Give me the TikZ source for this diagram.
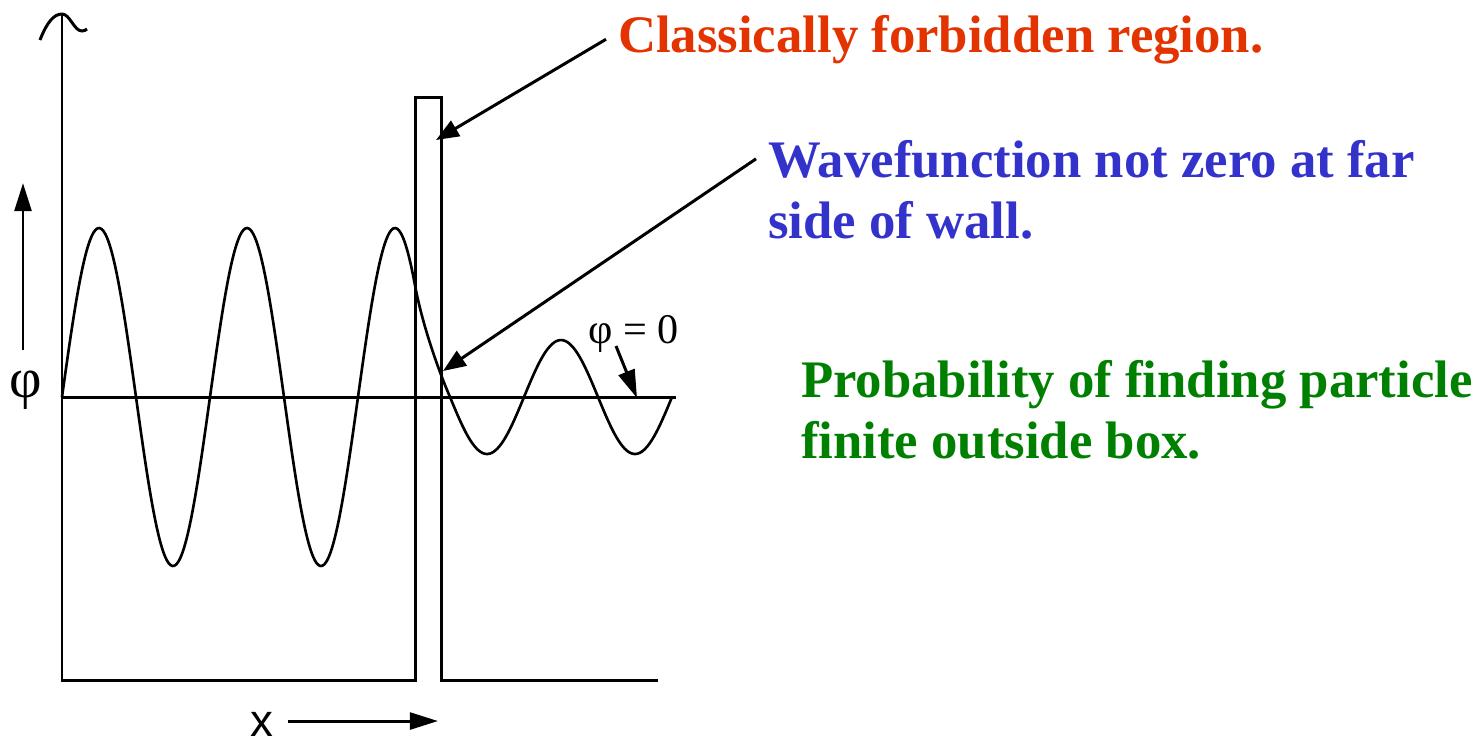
\documentclass[tikz,border=0pt]{standalone}
\usepackage{xcolor}
\usepackage{fontspec}
\setmainfont{Liberation Serif}
\newfontfamily\labelsans{Liberation Sans}
\usepackage{tikz}
\usetikzlibrary{arrows.meta}

\definecolor{forbidred}{RGB}{227,51,0}
\definecolor{wallblue}{RGB}{51,51,204}
\definecolor{probgreen}{RGB}{0,128,0}

\begin{document}
\begin{tikzpicture}[x=0.01cm, y=-0.01cm, line width=0.85pt,
    axarrow/.style={-{Triangle[length=8pt,width=4.8pt]}},
    labarrow/.style={-{Triangle[length=6.5pt,width=5pt]}},
    note/.style={font=\fontsize{15}{17.4}\selectfont\bfseries, anchor=base west, inner sep=3pt}]
    \useasboundingbox (0,0) rectangle (1483,741);

    % box with the thin wall
    \draw (40,40) .. controls (47,22) and (54,14) .. (62,14)
        .. controls (70,14) and (74,31) .. (82,31)
        .. controls (84,31) and (86,30) .. (87,29);
    \draw (62,14) -- (62,680) -- (415,680) -- (415,97) -- (441,97) -- (441,680) -- (658,680);
    \draw (62,397) -- (676,397);

    % wavefunction (period 148 px -> 2.4324 deg per px)
    \draw[line width=0.75pt] plot[domain=62:415, samples=180, smooth] (\x, {397-169*sin(2.4324*(\x-62))})
        .. controls (423,328) and (440,374) .. (450,397)
        -- plot[domain=450:672, samples=90, smooth] (\x, {397+57*sin(2.4324*(\x-450))});

    % axes labels
    \node[font=\fontsize{16}{18}\selectfont, inner sep=0pt] (philab) at (26,390) {φ};
    \coordinate (phibot) at (23,350);
    \coordinate (phitop) at (23,183);
    \draw[axarrow] (phibot) -- (phitop);
    \node[font=\labelsans\fontsize{13}{15}\selectfont, inner sep=3.8pt] (xlab) at (262,724) {x};
    \coordinate (xend) at (438,721);
    \draw[axarrow] (xlab.east |- xend) -- (xend);

    % notes
    \node[note, text=forbidred] (forbid) at (606,52) {Classically forbidden region.};
    \node[note, text=wallblue] (wall1) at (756,177) {Wavefunction not zero at far};
    \node[note, text=wallblue] (wall2) at (756,238) {side of wall.};
    \node[note, text=probgreen] (prob1) at (789,397) {Probability of finding particle};
    \node[note, text=probgreen] (prob2) at (789,458) {finite outside box.};
    \node[font=\fontsize{12}{14}\selectfont, anchor=base west, inner sep=0pt] (zerolab) at (587,343) {φ = 0};

    \coordinate (bartip) at (436,140);
    \coordinate (leaktip) at (443,371);
    \coordinate (zerotip) at (637,398);
    \coordinate (zerostart) at (616,346);
    \draw[labarrow] (forbid.west) -- (bartip);
    \draw[labarrow] (wall1.west) -- (leaktip);
    \draw[axarrow] (zerostart) -- (zerotip);
\end{tikzpicture}
\end{document}
